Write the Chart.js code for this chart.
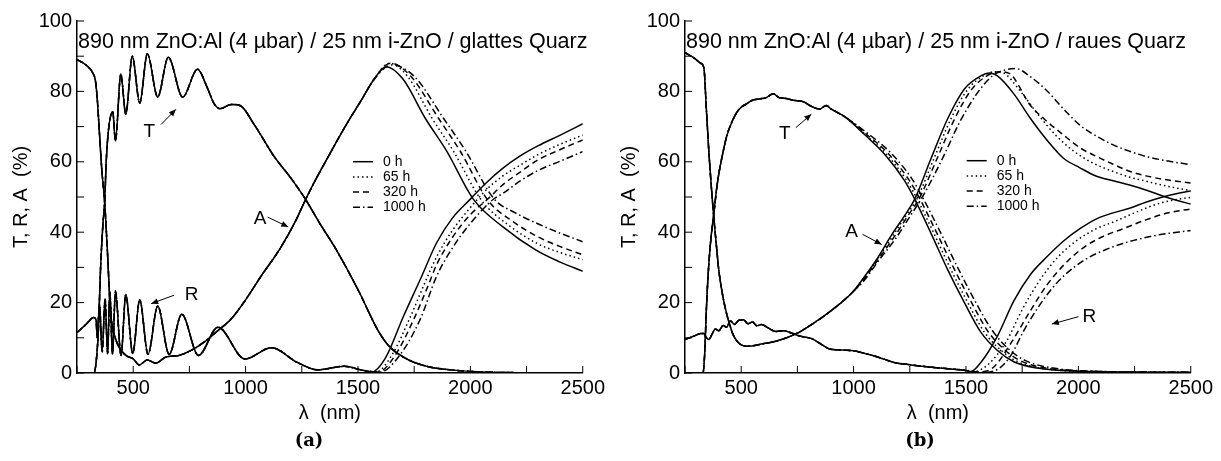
<!DOCTYPE html>
<html>
<head>
<meta charset="utf-8">
<script src="https://cdn.jsdelivr.net/npm/chart.js@4/dist/chart.umd.min.js"></script>
<style>
body { margin: 0; background: #fff; width: 1221px; height: 461px; position: relative; overflow: hidden; }
canvas { position: absolute; top: 0; }
.cap { position: absolute; top: 429px; font: bold 18px "DejaVu Serif"; transform: translateX(-50%); color: #000; }
</style>
</head>
<body>
<canvas id="ca" width="610" height="461" style="left:0px"></canvas>
<canvas id="cb" width="610" height="461" style="left:608px"></canvas>
<div class="cap" style="left:309px">(a)</div>
<div class="cap" style="left:920px">(b)</div>
<script>
// Bedingungen (Degradationszeit)
var conditions = ["0 h", "65 h", "320 h", "1000 h"];
var dashes = [[], [1.5, 3], [6, 4], [7, 3, 1.5, 3]];

// ---------- (a) glattes Quarz ----------
// T: alle vier Messungen praktisch gleich
var aT_x = [250,325,335,345,355,365,373,380,390,409,421,445,467,496,529,563,609,656,720,786,830,860,886,937,975,1040,1126,1200,1265,1330,1400,1503,1589,1640,1726,1800,1880,2052,2200,2500];
var aT_y = [0,0,3,12,30,42,48.5,60,69,74.2,66,84.9,73.5,90,76.7,90.7,78.4,89.7,78.4,86.3,81,76.5,75.1,76.3,76,70.4,61.6,55.5,49.5,42.5,35.4,23.3,12.1,7.5,3.7,2,1.1,0.3,0.1,0];

// A: gemeinsamer Teil bis 1570 nm
var aA_x = [250,290,322,332,340,350,360,373,385,395,405,420,440,468,500,526,563,600,644,703,760,820,876,938,997,1074,1150,1221,1265,1300,1368,1452,1515,1570];
var aA_y = [89,87.5,85,83,78,68,58,48.5,35,22,14,10,7,5,4,2.3,3.7,2.8,4.5,5,6.5,9,12,15.5,20.5,28,35,43,49,53.5,61.5,71,77.5,83.3];
var aA0_x = [1625,1700,1800,1896,2013,2145,2292,2400,2500];
var aA0_y = [87,83.5,72.3,62.9,49.4,41.5,34.9,31.5,28.9];
var aA65_x = [1640,1720,1830,1925,2050,2170,2300,2400,2500];
var aA65_y = [88,84.3,72.3,63,49,42,36.7,34.2,32.2];
var aA320_x = [1645,1735,1859,1955,2079,2190,2300,2400,2500];
var aA320_y = [88,84.3,72.3,63,49,43,38.7,35.9,33.6];
var aA1000_x = [1650,1750,1881,1980,2105,2200,2300,2400,2500];
var aA1000_y = [87.5,84.3,72.3,63,49.5,45.5,42.4,39.7,37.3];

// R: gemeinsamer Teil bis 1520 nm
var aR_x = [250,290,325,335,340,350,362,375,386,396,408,421,446,467,498,529,566,609,660,716,790,877,997,1115,1230,1321,1438,1520];
var aR_y = [11.5,13.8,15.8,15,10,19.5,6,21,5.5,23,5.3,23.3,5,22.3,5.5,20.8,5.3,19,5.3,16.7,5,13,4,7.2,3,0.9,1.9,0.8];
var aR0_x = [1560,1620,1703,1780,1850,1920,2000,2070,2145,2220,2300,2400,2500];
var aR0_y = [0.2,4,16.2,27,37,44,49.4,54,58.2,61.6,64.5,67.6,70.8];
var aR65_x = [1580,1650,1730,1800,1850,1920,2000,2070,2145,2220,2300,2400,2500];
var aR65_y = [0.3,5,15.5,26,33,40.5,47,52,56,59,62,65,67.6];
var aR320_x = [1590,1665,1750,1810,1850,1920,2000,2079,2145,2220,2300,2400,2500];
var aR320_y = [0.3,5,15.5,24.5,30.8,38.5,45,49.5,53.5,57,60.5,63.5,66.2];
var aR1000_x = [1600,1685,1775,1850,1920,2000,2105,2145,2220,2300,2400,2500];
var aR1000_y = [0.3,5,15,27.5,35.5,42.5,49.5,51,54.5,57.5,60.2,62.9];

// ---------- (b) raues Quarz ----------
var bT_x = [250,330,338,345,355,365,378,390,400,420,437,460,481,500,525,550,584,610,643,670,700,731,780,805,849,878,900,963];
var bT_y = [0,0,6,18,30,38,45,52,56.4,63,67.6,71.5,74.1,75.5,76.5,77.5,77.9,78.2,79.3,78.2,78,77.5,77,76,75,76,75,72.7];
var bT0_x = [1051,1140,1228,1272,1345,1419,1493,1566,1640,1713,1816,2007,2500];
var bT0_y = [67.6,62,54.5,49.4,39.6,29.3,20,11.6,6.4,3.2,1.4,0.5,0.2];
var bT65_x = [1053,1145,1236,1282,1357,1433,1508,1581,1655,1728,1830,2020,2500];
var bT65_y = [67.7,62.2,54.7,49.5,39.7,29.4,20,11.7,6.5,3.3,1.4,0.5,0.2];
var bT320_x = [1056,1152,1245,1293,1370,1448,1525,1598,1670,1745,1848,2040,2500];
var bT320_y = [67.9,62.5,55,49.7,39.8,29.5,20,11.8,6.7,3.4,1.5,0.5,0.2];
var bT1000_x = [1060,1160,1256,1306,1386,1466,1544,1618,1690,1765,1870,2060,2500];
var bT1000_y = [68.2,62.9,55.5,50,40,29.6,20,12,6.8,3.5,1.6,0.5,0.2];

var bA_x = [250,290,320,334,345,356,367,378,390,400,415,430,450,466,493,525,596,658,743,816,890,993];
var bA_y = [91,89.5,88,86.7,75,63,53,44.3,36,29.4,23,18.2,13.5,10.6,8.3,7.6,8.3,9.1,11.1,13.9,17.2,22.8];
var bA0_x = [1050,1110,1172,1230,1272,1345,1419,1493,1566,1603,1640,1713,1787,1860,1934,2007,2081,2155,2228,2300,2375,2440,2500];
var bA0_y = [27.5,33,39.5,45,49.4,61,72.3,80.7,84.4,85.2,84.4,79.3,72.3,66.2,61,58.3,55.9,54.6,53.4,52,50.3,49,48];
var bA65_x = [1050,1110,1175,1236,1282,1358,1433,1507,1580,1630,1665,1740,1820,1900,1980,2060,2140,2220,2300,2400,2500];
var bA65_y = [27.3,32.7,39,45,49.5,61,72.2,80.5,84.5,85.6,85.3,80.2,73.5,67.5,63,59.8,57.6,55.8,54.5,53,51.8];
var bA320_x = [1050,1110,1180,1245,1293,1372,1448,1522,1595,1645,1690,1787,1860,1934,2007,2081,2155,2228,2300,2400,2500];
var bA320_y = [27,32.3,38.6,45,49.7,61,72,80.3,84.5,85.6,85.2,76,71.5,67.6,64,61.5,59.3,57.3,56,54.8,54];
var bA1000_x = [1050,1110,1185,1256,1306,1396,1470,1550,1620,1680,1720,1790,1860,1934,2007,2081,2155,2228,2302,2400,2500];
var bA1000_y = [26.5,31.8,38,45,50,61,71,79.5,84.5,86.2,86.5,84,80.2,75,70.4,67.3,64.8,63,61.5,60.2,59.2];

var bR_x = [250,290,320,334,345,356,370,385,400,420,435,452,470,490,510,530,550,570,590,620,655,690,714,760,816,860,890,950,1000,1054,1110,1180,1256,1350,1420,1491];
var bR_y = [9.5,10.5,11.2,11.2,10,9.5,11,12.5,12,13.5,13,14.8,13.8,15,15.1,14,14.5,13.4,13.8,12.8,11.8,12,11.6,10.5,9.7,8,6.9,6.5,6.3,5.5,4.5,3,2.3,1.6,1.2,0.8];
var bR0_x = [1520,1566,1640,1713,1787,1860,1934,2007,2081,2155,2228,2300,2375,2440,2500];
var bR0_y = [0.4,3,10.5,20.5,28,33,37.5,41,43.8,45.5,46.8,48.5,50,51,51.7];
var bR65_x = [1530,1600,1680,1750,1830,1910,1990,2080,2160,2250,2350,2430,2500];
var bR65_y = [0.3,2.5,9,18,26.5,33,37.5,41,43,45.5,48,49.2,49.9];
var bR320_x = [1550,1620,1700,1780,1860,1940,2020,2100,2200,2300,2400,2500];
var bR320_y = [0.3,1.5,8.5,17,25,31,35.5,38.5,41,43.5,45.5,46.6];
var bR1000_x = [1570,1640,1700,1757,1830,1904,1980,2051,2120,2198,2345,2500];
var bR1000_y = [0.2,1,5,12,19.5,25.6,30,33,35,36.8,39.1,40.5];

// Hilfsfunktion: x/y Listen zu Punkten
function pts(xs, ys) {
    return xs.map(function (x, i) { return { x: x, y: ys[i] }; });
}

function buildDatasets(T, A, R) {
    var ds = [];
    conditions.forEach(function (c, i) {
        [T[i], R[i], A[i]].forEach(function (s) {
            ds.push({
                label: c,
                data: pts(s[0], s[1]),
                borderColor: "#000",
                borderWidth: 1.5,
                borderDash: dashes[i],
                pointRadius: 0,
                fill: false,
                cubicInterpolationMode: "monotone"
            });
        });
    });
    return ds;
}

var dsA = buildDatasets(
    [[aT_x, aT_y], [aT_x, aT_y], [aT_x, aT_y], [aT_x, aT_y]],
    [[aA_x.concat(aA0_x), aA_y.concat(aA0_y)], [aA_x.concat(aA65_x), aA_y.concat(aA65_y)],
     [aA_x.concat(aA320_x), aA_y.concat(aA320_y)], [aA_x.concat(aA1000_x), aA_y.concat(aA1000_y)]],
    [[aR_x.concat(aR0_x), aR_y.concat(aR0_y)], [aR_x.concat(aR65_x), aR_y.concat(aR65_y)],
     [aR_x.concat(aR320_x), aR_y.concat(aR320_y)], [aR_x.concat(aR1000_x), aR_y.concat(aR1000_y)]]
);
var dsB = buildDatasets(
    [[bT_x.concat(bT0_x), bT_y.concat(bT0_y)], [bT_x.concat(bT65_x), bT_y.concat(bT65_y)],
     [bT_x.concat(bT320_x), bT_y.concat(bT320_y)], [bT_x.concat(bT1000_x), bT_y.concat(bT1000_y)]],
    [[bA_x.concat(bA0_x), bA_y.concat(bA0_y)], [bA_x.concat(bA65_x), bA_y.concat(bA65_y)],
     [bA_x.concat(bA320_x), bA_y.concat(bA320_y)], [bA_x.concat(bA1000_x), bA_y.concat(bA1000_y)]],
    [[bR_x.concat(bR0_x), bR_y.concat(bR0_y)], [bR_x.concat(bR65_x), bR_y.concat(bR65_y)],
     [bR_x.concat(bR320_x), bR_y.concat(bR320_y)], [bR_x.concat(bR1000_x), bR_y.concat(bR1000_y)]]
);

var FONT = "Liberation Sans";

// Ticks nach innen, Überschrift, Legende und Pfeil-Beschriftungen
var decor = {
    id: "decor",
    afterDraw: function (chart, args, o) {
        var ctx = chart.ctx, a = chart.chartArea, sx = chart.scales.x, sy = chart.scales.y;
        ctx.save();
        ctx.strokeStyle = "#000";
        ctx.fillStyle = "#000";
        ctx.lineWidth = 1;
        ctx.setLineDash([]);
        ctx.beginPath();
        sx.ticks.forEach(function (t) {
            var px = sx.getPixelForValue(t.value);
            ctx.moveTo(px, a.bottom); ctx.lineTo(px, a.bottom - 7);
        });
        sy.ticks.forEach(function (t) {
            var py = sy.getPixelForValue(t.value);
            ctx.moveTo(a.left, py); ctx.lineTo(a.left + 7, py);
        });
        ctx.stroke();

        // Überschrift
        ctx.font = "21.5px '" + FONT + "'";
        ctx.textBaseline = "alphabetic";
        ctx.textAlign = "left";
        ctx.fillText(o.heading, a.left + 1, 48);

        // Legende
        ctx.font = "14px '" + FONT + "'";
        ctx.textBaseline = "middle";
        conditions.forEach(function (c, i) {
            var y = o.legendY + i * 15.2;
            ctx.lineWidth = 1.5;
            ctx.setLineDash(dashes[i]);
            ctx.beginPath();
            ctx.moveTo(o.legendX, y); ctx.lineTo(o.legendX + 20, y);
            ctx.stroke();
            ctx.setLineDash([]);
            ctx.fillText(c, o.legendX + 30, y);
        });

        // T, R, A mit Pfeil
        ctx.font = "19px '" + FONT + "'";
        ctx.textAlign = "center";
        ctx.lineWidth = 1;
        o.marks.forEach(function (m) {
            ctx.fillText(m.t, sx.getPixelForValue(m.at[0]), sy.getPixelForValue(m.at[1]));
            var x0 = sx.getPixelForValue(m.from[0]), y0 = sy.getPixelForValue(m.from[1]);
            var x1 = sx.getPixelForValue(m.to[0]), y1 = sy.getPixelForValue(m.to[1]);
            ctx.beginPath();
            ctx.moveTo(x0, y0); ctx.lineTo(x1, y1);
            ctx.stroke();
            var ang = Math.atan2(y1 - y0, x1 - x0);
            ctx.beginPath();
            ctx.moveTo(x1, y1);
            ctx.lineTo(x1 - 7 * Math.cos(ang) + 3 * Math.sin(ang), y1 - 7 * Math.sin(ang) - 3 * Math.cos(ang));
            ctx.lineTo(x1 - 7 * Math.cos(ang) - 3 * Math.sin(ang), y1 - 7 * Math.sin(ang) + 3 * Math.cos(ang));
            ctx.closePath();
            ctx.fill();
        });
        ctx.restore();
    }
};

function makeChart(id, datasets, decorOpts) {
    return new Chart(document.getElementById(id), {
        type: "line",
        data: { datasets: datasets },
        plugins: [decor],
        options: {
            responsive: false,
            animation: false,
            layout: { padding: { left: 11, top: 21, right: 23, bottom: 38 } },
            plugins: { legend: { display: false }, tooltip: { enabled: false }, decor: decorOpts },
            scales: {
                x: {
                    type: "linear", min: 250, max: 2500,
                    grid: { display: true, drawOnChartArea: false, drawTicks: false },
                    border: { display: true, color: "#000", width: 1.5 },
                    ticks: {
                        stepSize: 250, autoSkip: false, maxRotation: 0, padding: 5, color: "#000",
                        font: { family: FONT, size: 20, lineHeight: 1 },
                        callback: function (v) { return v % 500 === 0 ? String(v) : ""; }
                    },
                    title: { display: true, text: "\u03bb  (nm)", color: "#000", padding: 0,
                             font: { family: FONT, size: 20, lineHeight: 1 } }
                },
                y: {
                    min: 0, max: 100,
                    afterFit: function (s) { s.width = 66; },
                    grid: { display: true, drawOnChartArea: false, drawTicks: false },
                    border: { display: true, color: "#000", width: 1.5 },
                    ticks: {
                        stepSize: 10, autoSkip: false, padding: 5, color: "#000",
                        font: { family: FONT, size: 20, lineHeight: 1 },
                        callback: function (v) { return v % 20 === 0 ? String(v) : ""; }
                    },
                    title: { display: true, text: "T, R, A  (%)", color: "#000", padding: 0,
                             font: { family: FONT, size: 20, lineHeight: 1 } }
                }
            }
        }
    });
}

makeChart("ca", dsA, {
    heading: "890 nm ZnO:Al (4 \u00b5bar) / 25 nm i-ZnO / glattes Quarz",
    legendX: 353, legendY: 161.7,
    marks: [
        { t: "T", at: [572, 68.5], from: [624, 70.6], to: [690, 74.9] },
        { t: "R", at: [760, 22.3], from: [682, 22.1], to: [580, 19.7] },
        { t: "A", at: [1065, 43.8], from: [1098, 44.3], to: [1190, 41.5] }
    ]
});
makeChart("cb", dsB, {
    heading: "890 nm ZnO:Al (4 \u00b5bar) / 25 nm i-ZnO / raues Quarz",
    legendX: 358.7, legendY: 160.7,
    marks: [
        { t: "T", at: [694, 68], from: [743, 69.7], to: [812, 73.5] },
        { t: "A", at: [991, 40], from: [1040, 39.4], to: [1125, 36.5] },
        { t: "R", at: [2049, 16], from: [2000, 16], to: [1882, 13.9] }
    ]
});
</script>
</body>
</html>
